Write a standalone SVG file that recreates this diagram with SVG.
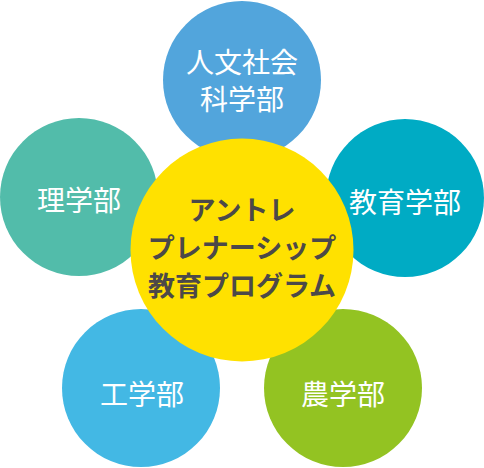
<svg xmlns="http://www.w3.org/2000/svg" width="484" height="468" viewBox="0 0 484 468">
<style>
.lbl{font-family:"Noto Sans CJK JP","Noto Sans CJK SC",sans-serif;font-size:28px;fill:#ffffff;text-anchor:middle}
.ctr{font-family:"Noto Sans CJK JP","Noto Sans CJK SC",sans-serif;font-size:27px;font-weight:bold;fill:#4c4948;text-anchor:middle}
</style>
<rect width="484" height="468" fill="#ffffff"/>
<g id="connectors"></g>
<g id="jinbun">
<circle cx="242" cy="80" r="79" fill="#52a5dc"/>
<text class="lbl" x="242" y="73">人文社会</text>
<text class="lbl" x="242" y="110">科学部</text>
</g>
<g id="rigaku">
<circle cx="79" cy="197" r="79" fill="#52bcaa"/>
<text class="lbl" x="79" y="211">理学部</text>
</g>
<g id="kyoiku">
<circle cx="405" cy="198" r="79" fill="#00abc4"/>
<text class="lbl" x="405" y="213">教育学部</text>
</g>
<g id="kogaku">
<circle cx="141" cy="388" r="79" fill="#43b8e4"/>
<text class="lbl" x="142" y="405">工学部</text>
</g>
<g id="nogaku">
<circle cx="343" cy="388" r="79" fill="#93c322"/>
<text class="lbl" x="343" y="405">農学部</text>
</g>
<g id="center">
<circle cx="242" cy="250" r="111.5" fill="#ffe100"/>
<text class="ctr" x="242" y="220">アントレ</text>
<text class="ctr" x="242" y="258">プレナーシップ</text>
<text class="ctr" x="242" y="296">教育プログラム</text>
</g>
</svg>
